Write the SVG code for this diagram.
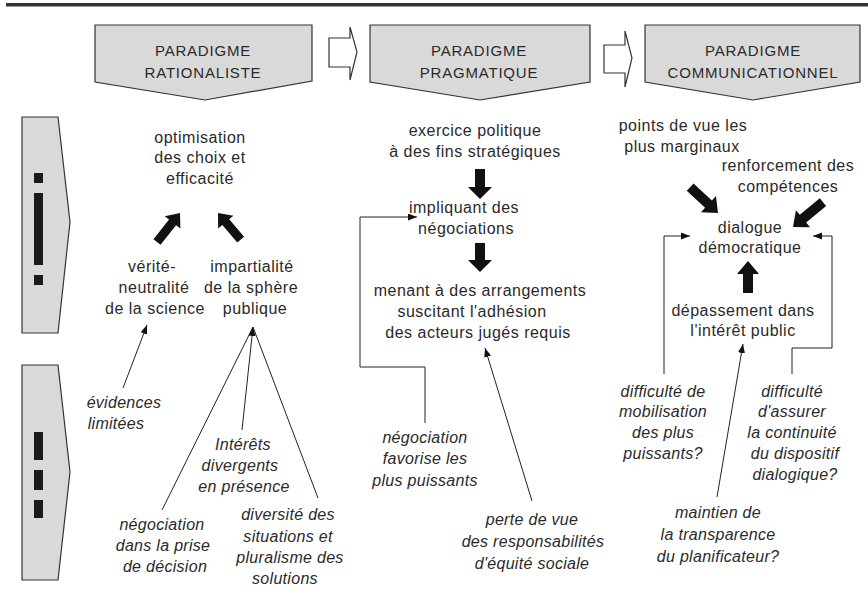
<svg xmlns="http://www.w3.org/2000/svg" width="868" height="606" viewBox="0 0 868 606">
<style>
.bg{fill:#ffffff}
.hdr{fill:#d9d9d9;stroke:#333;stroke-width:1.2}
.step{fill:#ffffff;stroke:#333;stroke-width:1.2}
.bar{fill:#1a1a1a}
.t{font-family:"Liberation Sans",Arial,sans-serif;font-size:16px;letter-spacing:0.5px;fill:#2a2a2a;text-anchor:middle}
.i{font-family:"Liberation Sans",Arial,sans-serif;font-size:16px;font-style:italic;letter-spacing:0.3px;fill:#2a2a2a;text-anchor:middle}
.h{font-family:"Liberation Sans",Arial,sans-serif;font-size:15px;letter-spacing:0.8px;fill:#2a2a2a;text-anchor:middle}
.blk{fill:#111}
.ln{fill:none;stroke:#222;stroke-width:1}
</style>
<defs>
<marker id="ah" markerUnits="userSpaceOnUse" markerWidth="10" markerHeight="8" refX="9" refY="3.5" orient="auto">
<path d="M0,0 L9,3.5 L0,7 Z" fill="#111"/>
</marker>
</defs>
<rect class="bg" x="0" y="0" width="868" height="606"/>
<rect x="6" y="3" width="862" height="3.5" fill="#333"/>

<g id="hdr-rationaliste">
<polygon class="hdr" points="95,25 312,25 312,81 205,100 95,82"/>
<text class="h" x="203" y="56">PARADIGME</text>
<text class="h" x="203" y="78">RATIONALISTE</text>
</g>
<g id="step1">
<path class="step" d="M329,38 H350 V27 L357,52 L350,80 V67 H329 Z"/>
</g>
<g id="hdr-pragmatique">
<polygon class="hdr" points="370,25 590,25 590,82 480,100 370,82"/>
<text class="h" x="479" y="56">PARADIGME</text>
<text class="h" x="479" y="78">PRAGMATIQUE</text>
</g>
<g id="step2">
<path class="step" d="M604,45 H625 V31 L632,58 L625,87 V73 H604 Z"/>
</g>
<g id="hdr-communicationnel">
<polygon class="hdr" points="645,25 860,25 860,82 753,100 645,82"/>
<text class="h" x="753" y="56">PARADIGME</text>
<text class="h" x="753" y="78">COMMUNICATIONNEL</text>
</g>

<g id="side-1">
<polygon class="hdr" points="22,117 58,117 70,222 58,333 22,333"/>
<rect class="bar" x="34" y="173" width="9" height="10"/>
<rect class="bar" x="34" y="193" width="9" height="72"/>
<rect class="bar" x="34" y="275" width="9" height="10"/>
</g>
<g id="side-2">
<polygon class="hdr" points="22,365 58,365 70,472 58,580 22,580"/>
<rect class="bar" x="34" y="432" width="9" height="28"/>
<rect class="bar" x="34" y="470" width="9" height="20"/>
<rect class="bar" x="34" y="500" width="9" height="18"/>
</g>

<g id="n-optimisation">
<text class="t" x="200" y="143">optimisation</text>
<text class="t" x="200" y="163">des choix et</text>
<text class="t" x="200" y="184">efficacité</text>
</g>
<g id="n-verite">
<text class="t" x="152" y="272">vérité-</text>
<text class="t" x="154" y="293">neutralité</text>
<text class="t" x="155" y="314">de la science</text>
</g>
<g id="n-impartialite">
<text class="t" x="252" y="272">impartialité</text>
<text class="t" x="251" y="293">de la sphère</text>
<text class="t" x="255" y="314">publique</text>
</g>
<g id="n-evidences">
<text class="i" x="124" y="408">évidences</text>
<text class="i" x="116" y="429">limitées</text>
</g>
<g id="n-interets">
<text class="i" x="243" y="450">Intérêts</text>
<text class="i" x="240" y="471">divergents</text>
<text class="i" x="244" y="492">en présence</text>
</g>
<g id="n-negociation1">
<text class="i" x="162" y="530">négociation</text>
<text class="i" x="163" y="551">dans la prise</text>
<text class="i" x="165" y="572">de décision</text>
</g>
<g id="n-diversite">
<text class="i" x="288" y="520">diversité des</text>
<text class="i" x="288" y="542">situations et</text>
<text class="i" x="290" y="563">pluralisme des</text>
<text class="i" x="285" y="584">solutions</text>
</g>

<g id="n-exercice">
<text class="t" x="475" y="136">exercice politique</text>
<text class="t" x="475" y="157">à des fins stratégiques</text>
</g>
<g id="n-impliquant">
<text class="t" x="464" y="213">impliquant des</text>
<text class="t" x="466" y="234">négociations</text>
</g>
<g id="n-menant">
<text class="t" x="480" y="296">menant à des arrangements</text>
<text class="t" x="472" y="317">suscitant l'adhésion</text>
<text class="t" x="478" y="338">des acteurs jugés requis</text>
</g>
<g id="n-negociation2">
<text class="i" x="425" y="443">négociation</text>
<text class="i" x="425" y="464">favorise les</text>
<text class="i" x="425" y="486">plus puissants</text>
</g>
<g id="n-perte">
<text class="i" x="532" y="525">perte de vue</text>
<text class="i" x="533" y="547">des responsabilités</text>
<text class="i" x="532" y="569">d'équité sociale</text>
</g>

<g id="n-points">
<text class="t" x="683" y="131">points de vue les</text>
<text class="t" x="682" y="152">plus marginaux</text>
</g>
<g id="n-renforcement">
<text class="t" x="788" y="171">renforcement des</text>
<text class="t" x="788" y="192">compétences</text>
</g>
<g id="n-dialogue">
<text class="t" x="750" y="233">dialogue</text>
<text class="t" x="750" y="253">démocratique</text>
</g>
<g id="n-depassement">
<text class="t" x="743" y="316">dépassement dans</text>
<text class="t" x="743" y="336">l'intérêt public</text>
</g>
<g id="n-difficulte1">
<text class="i" x="663" y="397">difficulté de</text>
<text class="i" x="663" y="417">mobilisation</text>
<text class="i" x="663" y="438">des plus</text>
<text class="i" x="663" y="459">puissants?</text>
</g>
<g id="n-difficulte2">
<text class="i" x="792" y="397">difficulté</text>
<text class="i" x="792" y="417">d'assurer</text>
<text class="i" x="792" y="438">la continuité</text>
<text class="i" x="795" y="459">du dispositif</text>
<text class="i" x="795" y="480">dialogique?</text>
</g>
<g id="n-maintien">
<text class="i" x="718" y="518">maintien de</text>
<text class="i" x="718" y="540">la transparence</text>
<text class="i" x="718" y="562">du planificateur?</text>
</g>

<g id="connectors">
<path class="blk" transform="translate(180,213) rotate(38.4)" d="M0,0 L10,12 H4.5 V37 H-4.5 V12 H-10 Z"/>
<path class="blk" transform="translate(218,213) rotate(-40.4)" d="M0,0 L10,12 H4.5 V35 H-4.5 V12 H-10 Z"/>
<path class="blk" transform="translate(480,199) rotate(180)" d="M0,0 L12,12 H5 V30 H-5 V12 H-12 Z"/>
<path class="blk" transform="translate(480,272) rotate(180)" d="M0,0 L12,12 H5 V29 H-5 V12 H-12 Z"/>
<path class="blk" transform="translate(748,261) rotate(0)" d="M0,0 L11,13 H5 V32 H-5 V13 H-11 Z"/>
<path class="blk" transform="translate(718,213) rotate(132.9)" d="M0,0 L11,13 H5 V38 H-5 V13 H-11 Z"/>
<path class="blk" transform="translate(793,227) rotate(-129.8)" d="M0,0 L11,13 H5 V39 H-5 V13 H-11 Z"/>

<line class="ln" x1="123" y1="388" x2="147" y2="325" marker-end="url(#ah)"/>
<line class="ln" x1="162" y1="510" x2="253" y2="327"/>
<line class="ln" x1="318" y1="498" x2="253" y2="327"/>
<line class="ln" x1="242" y1="430" x2="253" y2="327" marker-end="url(#ah)"/>

<polyline class="ln" points="425,423 425,367 360,367 360,217 417,217" marker-end="url(#ah)"/>
<line class="ln" x1="532" y1="501" x2="485" y2="348" marker-end="url(#ah)"/>

<polyline class="ln" points="664,374 664,236 690,236" marker-end="url(#ah)"/>
<polyline class="ln" points="792,374 792,348 832,348 832,236 813,236" marker-end="url(#ah)"/>
<line class="ln" x1="717" y1="497" x2="743" y2="344" marker-end="url(#ah)"/>
</g>
</svg>
